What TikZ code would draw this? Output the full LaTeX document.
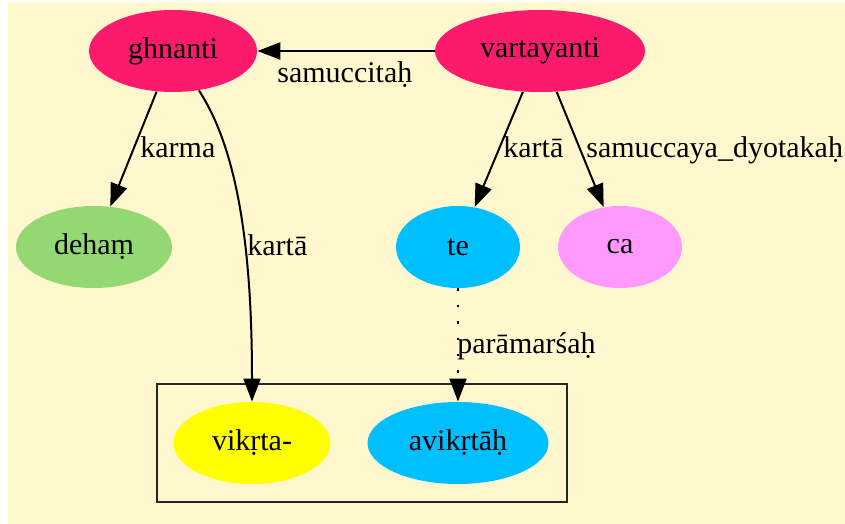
\documentclass[tikz,border=0pt]{standalone}
\usepackage{fontspec}
\setmainfont{Liberation Serif}
\usetikzlibrary{shapes.geometric,arrows.meta}
\definecolor{bgc}{RGB}{255,248,207}
\definecolor{pinkc}{RGB}{252,26,108}
\definecolor{greenc}{RGB}{147,216,114}
\definecolor{bluec}{RGB}{0,191,255}
\definecolor{violetc}{RGB}{255,153,255}
\definecolor{yellowc}{RGB}{255,255,0}
\tikzset{
  nd/.style={ellipse, inner sep=0pt, minimum height=41pt, font=\fontsize{15}{18}\selectfont},
  lbl/.style={anchor=base west, inner sep=0pt, font=\fontsize{15}{18}\selectfont},
  edge/.style={line width=1pt, -{Triangle[length=11.5pt,width=8.5pt]}},
  dottededge/.style={edge, dash pattern=on 1.2pt off 7pt},
}
\begin{document}
\begin{tikzpicture}[x=0.5pt,y=-0.5pt]
\useasboundingbox (0,0) rectangle (845,524);
\fill[bgc] (8,2) rectangle (845,524);
\draw[line width=1pt, black!85] (157,384) rectangle (567,502);
\node[nd, fill=pinkc, minimum width=84pt] (ghnanti) at (173,51) {ghnanti};
\node[nd, fill=pinkc, minimum width=105pt] (vartayanti) at (540,51) {vartayanti};
\node[nd, fill=greenc, minimum width=78pt] (deham) at (94,247) {dehaṃ};
\node[nd, fill=bluec, minimum width=62pt] (te) at (458,247) {te};
\node[nd, fill=violetc, minimum width=62pt] (ca) at (620,247) {ca};
\node[nd, fill=yellowc, minimum width=78.5pt] (vikrta) at (252,443) {vikṛta-};
\node[nd, fill=bluec, minimum width=90.5pt] (avikrtah) at (458,443) {avikṛtāḥ};
\draw[edge] (vartayanti) -- (ghnanti);
\draw[edge] (ghnanti) -- (deham);
\draw[edge] (ghnanti) .. controls (238,150) and (252,250) .. (vikrta);
\draw[edge] (vartayanti) -- (te);
\draw[edge] (vartayanti) -- (ca);
\draw[dottededge] (te) -- (avikrtah);
\node[lbl] (l1) at (277,83) {samuccitaḥ};
\node[lbl] (l2) at (140,157) {karma};
\node[lbl] (l3) at (247,255) {kartā};
\node[lbl] (l4) at (503,157) {kartā};
\node[lbl] (l5) at (586,157) {samuccaya\_dyotakaḥ};
\node[lbl] (l6) at (457,353) {parāmarśaḥ};
\end{tikzpicture}
\end{document}
